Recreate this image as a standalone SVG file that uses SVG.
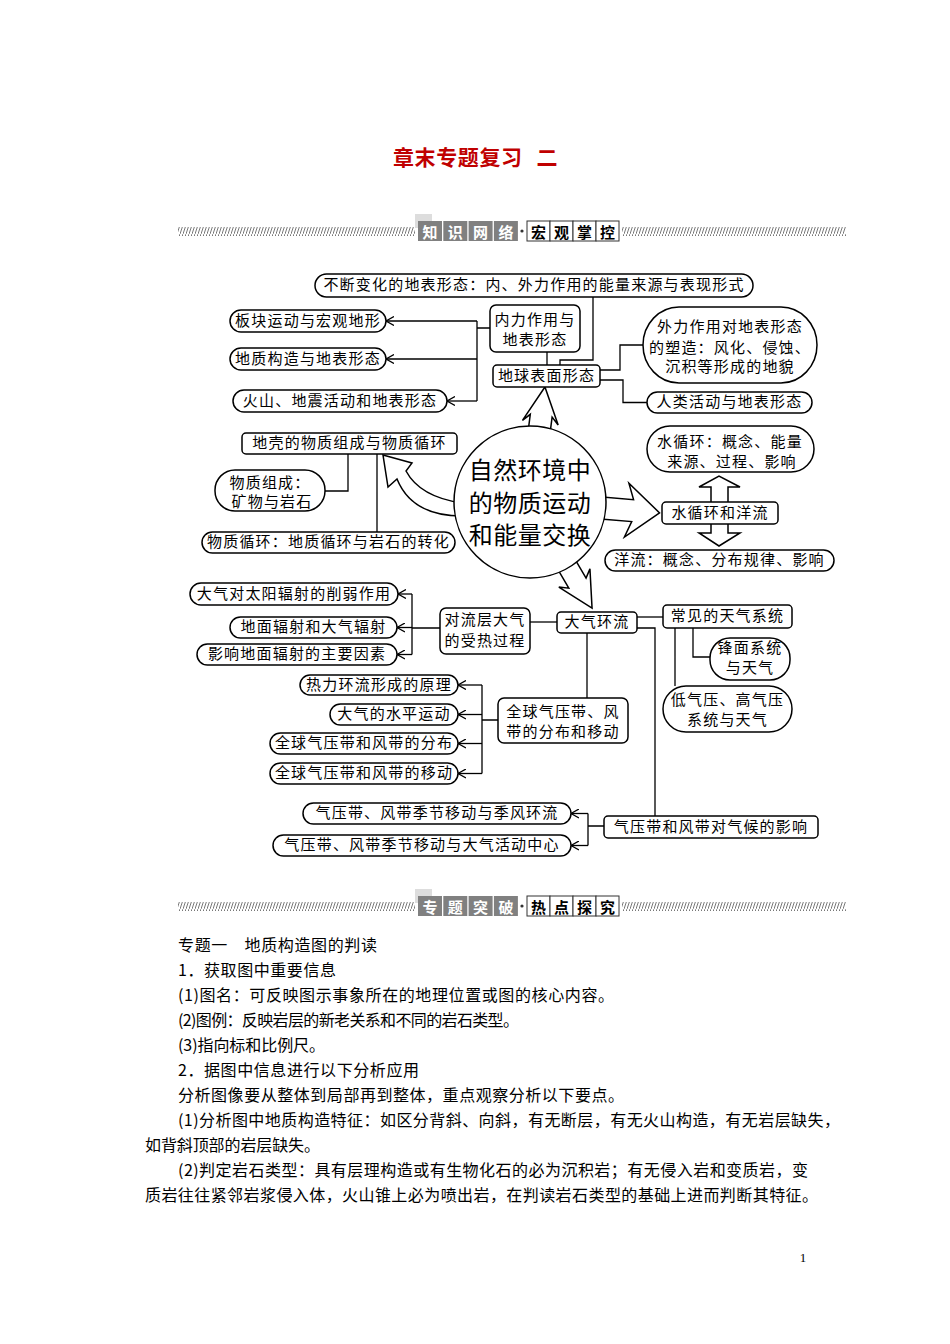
<svg xmlns="http://www.w3.org/2000/svg" width="950" height="1344" viewBox="0 0 950 1344">
<defs>
<style>
.b{fill:#fff;stroke:#000;stroke-width:1.5}
.t{font-family:"Noto Sans CJK SC","Noto Sans",sans-serif;font-size:15px;letter-spacing:1.2px;text-anchor:middle;dominant-baseline:central;fill:#000;transform:translateY(-2px)}
.big{font-family:"Noto Sans CJK SC",sans-serif;font-size:24px;letter-spacing:0.5px;text-anchor:middle;dominant-baseline:central;fill:#000;transform:translateY(-2px)}
.c{fill:none;stroke:#000;stroke-width:1.3}
.ar{fill:#fff;stroke:#000;stroke-width:1.5;stroke-linejoin:miter}
.p{font-family:"Noto Sans CJK SC","Noto Sans",sans-serif;font-size:16px;fill:#000}
.hg{fill:#808080}
.hw{fill:#fff;stroke:#333;stroke-width:1}
.ht{font-family:"Noto Sans CJK SC",sans-serif;font-size:15px;font-weight:bold;text-anchor:middle;dominant-baseline:central}
.ti{font-family:"Noto Sans CJK SC",sans-serif;font-size:21px;font-weight:bold;fill:#c00000;dominant-baseline:central}
</style>
<pattern id="hatch" width="3" height="9" patternUnits="userSpaceOnUse"><path d="M-1,10 L0,9 M0,9 L3,0 M3,0 L4,-1" stroke="#555" stroke-width="0.8"/></pattern>
<marker id="chev" viewBox="0 0 8 10" refX="8" refY="5" markerWidth="8" markerHeight="10" markerUnits="userSpaceOnUse" orient="auto"><path d="M0,0.5 L8,5 L0,9.5" fill="none" stroke="#000" stroke-width="1.3"/></marker>
</defs>
<rect width="950" height="1344" fill="#fff"/>

<g id="title">
<text class="ti" x="393" y="156" textLength="129">章末专题复习</text>
<text class="ti" x="547" y="156" text-anchor="middle">二</text>
</g>

<g id="header1">
<rect x="178" y="227" width="237" height="9" fill="url(#hatch)"/>
<rect x="622" y="227" width="224" height="9" fill="url(#hatch)"/>
<rect x="415" y="214" width="17" height="14" fill="#ddd"/>
<rect class="hg" x="418" y="221" width="24" height="20"/><rect class="hg" x="443.3" y="221" width="24" height="20"/><rect class="hg" x="468.6" y="221" width="24" height="20"/><rect class="hg" x="493.9" y="221" width="24" height="20"/>
<text class="ht" fill="#fff" x="430" y="231">知</text><text class="ht" fill="#fff" x="455.3" y="231">识</text><text class="ht" fill="#fff" x="480.6" y="231">网</text><text class="ht" fill="#fff" x="505.9" y="231">络</text>
<circle cx="522" cy="231" r="1.6" fill="#333"/>
<rect class="hw" x="527" y="221" width="23" height="20"/><rect class="hw" x="550" y="221" width="23" height="20"/><rect class="hw" x="573" y="221" width="23" height="20"/><rect class="hw" x="596" y="221" width="23" height="20"/>
<text class="ht" x="538.5" y="231">宏</text><text class="ht" x="561.5" y="231">观</text><text class="ht" x="584.5" y="231">掌</text><text class="ht" x="607.5" y="231">控</text>
</g>

<g id="connectors">
<path class="c" d="M593,297 V360 H560 V365"/>
<path class="c" d="M547,352 V365"/>
<path class="c" d="M490,328 H477 M477,321 V401"/>
<path class="c" d="M477,321 H386" marker-end="url(#chev)"/>
<path class="c" d="M477,359 H386" marker-end="url(#chev)"/>
<path class="c" d="M477,401 H447" marker-end="url(#chev)"/>
<path class="c" d="M600,370 H620 V345 H643"/>
<path class="c" d="M600,380 H623 V402.5 H647"/>
<path class="c" d="M348,454 V491 H325 M377,454 V532"/>
<path class="c" d="M440,628 H412 M412,594 V654.5"/>
<path class="c" d="M412,594 H398" marker-end="url(#chev)"/>
<path class="c" d="M412,627.5 H397" marker-end="url(#chev)"/>
<path class="c" d="M412,654.5 H397" marker-end="url(#chev)"/>
<path class="c" d="M530,622 H557"/>
<path class="c" d="M637,617 H663"/>
<path class="c" d="M637,628 H655 V816"/>
<path class="c" d="M675,628 V686 M693,628 V657 H710"/>
<path class="c" d="M587,633 V698"/>
<path class="c" d="M498,720 H482 M482,685 V773.5"/>
<path class="c" d="M482,685 H458" marker-end="url(#chev)"/>
<path class="c" d="M482,714.5 H458" marker-end="url(#chev)"/>
<path class="c" d="M482,743.5 H458" marker-end="url(#chev)"/>
<path class="c" d="M482,773.5 H458" marker-end="url(#chev)"/>
<path class="c" d="M604,826 H588 M588,813.5 V845.5"/>
<path class="c" d="M588,813.5 H571" marker-end="url(#chev)"/>
<path class="c" d="M588,845.5 H571" marker-end="url(#chev)"/>
<path class="ar" d="M711,502 V487 H699 L719,476 L740,487 H728 V502"/>
<path class="ar" d="M711,524 V533 H699 L719,546 L740,533 H728 V524"/>
<polygon class="ar" transform="translate(530,502) rotate(-82.6)" points="60,-11 87,-11 80,-18 116,0 80,18 87,11 60,11"/>
<polygon class="ar" transform="translate(530,502) rotate(4.8)" points="60,-11 103,-11 97,-27 130,0 97,27 103,11 60,11"/>
<polygon class="ar" transform="translate(530,502) rotate(59.7)" points="60,-10 94,-10 88,-18 123,0 88,18 94,10 60,10"/>
<path class="ar" d="M383,455 L412,463 L406,471 Q420,497 462,503 L462,516 Q412,516 397,479 L388,487 Z"/>
</g>

<g id="n-top"><rect class="b" x="315" y="274" width="438" height="23" rx="11.5"/><text class="t" x="534" y="285.5">不断变化的地表形态：内、外力作用的能量来源与表现形式</text></g>
<g id="n-bankuai"><rect class="b" x="230" y="310" width="156" height="22" rx="11"/><text class="t" x="308" y="321">板块运动与宏观地形</text></g>
<g id="n-dizhi"><rect class="b" x="230" y="348" width="156" height="22" rx="11"/><text class="t" x="308" y="359">地质构造与地表形态</text></g>
<g id="n-huoshan"><rect class="b" x="233" y="390" width="214" height="22" rx="11"/><text class="t" x="340" y="401">火山、地震活动和地表形态</text></g>
<g id="n-neili"><rect class="b" x="490" y="305" width="90" height="47" rx="6"/><text class="t" x="535" y="320">内力作用与</text><text class="t" x="535" y="340">地表形态</text></g>
<g id="n-diqiu"><rect class="b" x="493" y="365" width="107" height="22" rx="4"/><text class="t" x="546.5" y="376">地球表面形态</text></g>
<g id="n-waili"><rect class="b" x="643" y="307" width="174" height="76" rx="36" ry="38"/><text class="t" x="730" y="327">外力作用对地表形态</text><text class="t" x="730" y="348">的塑造：风化、侵蚀、</text><text class="t" x="730" y="367">沉积等形成的地貌</text></g>
<g id="n-renlei"><rect class="b" x="647" y="392" width="165" height="21" rx="10.5"/><text class="t" x="729.5" y="402.5">人类活动与地表形态</text></g>
<g id="n-diqiao"><rect class="b" x="242" y="433" width="215" height="21" rx="4"/><text class="t" x="349.5" y="443.5">地壳的物质组成与物质循环</text></g>
<g id="n-zucheng"><rect class="b" x="215" y="470" width="110" height="41" rx="20"/><text class="t" x="270" y="483">物质组成：</text><text class="t" x="272" y="502">矿物与岩石</text></g>
<g id="n-xunhuan"><rect class="b" x="202" y="532" width="253" height="21" rx="10.5"/><text class="t" x="328.5" y="542.5">物质循环：地质循环与岩石的转化</text></g>
<g id="n-center"><circle class="b" cx="530" cy="502" r="76"/><text class="big" x="530" y="470">自然环境中</text><text class="big" x="530" y="503">的物质运动</text><text class="big" x="530" y="535">和能量交换</text></g>
<g id="n-shuixunhuan"><rect class="b" x="647" y="426" width="167" height="46" rx="23"/><text class="t" x="730" y="442">水循环：概念、能量</text><text class="t" x="732" y="462">来源、过程、影响</text></g>
<g id="n-shuiyang"><rect class="b" x="662" y="502" width="116" height="22" rx="4"/><text class="t" x="720" y="513">水循环和洋流</text></g>
<g id="n-yangliu"><rect class="b" x="605" y="550" width="229" height="21" rx="10.5"/><text class="t" x="719.5" y="560.5">洋流：概念、分布规律、影响</text></g>
<g id="n-xueruo"><rect class="b" x="190" y="583" width="208" height="22" rx="11"/><text class="t" x="294" y="594">大气对太阳辐射的削弱作用</text></g>
<g id="n-fushe"><rect class="b" x="230" y="617" width="167" height="21" rx="10.5"/><text class="t" x="313.5" y="627.5">地面辐射和大气辐射</text></g>
<g id="n-yinsu"><rect class="b" x="197" y="644" width="200" height="21" rx="10.5"/><text class="t" x="297" y="654.5">影响地面辐射的主要因素</text></g>
<g id="n-duiliu"><rect class="b" x="440" y="608" width="90" height="46" rx="6"/><text class="t" x="485" y="620">对流层大气</text><text class="t" x="485" y="641">的受热过程</text></g>
<g id="n-huanliu"><rect class="b" x="557" y="612" width="80" height="21" rx="4"/><text class="t" x="597" y="622.5">大气环流</text></g>
<g id="n-tianqi"><rect class="b" x="663" y="605" width="129" height="23" rx="4"/><text class="t" x="727.5" y="616.5">常见的天气系统</text></g>
<g id="n-fengmian"><rect class="b" x="710" y="638" width="80" height="42" rx="20"/><text class="t" x="750" y="648">锋面系统</text><text class="t" x="750" y="668">与天气</text></g>
<g id="n-diqiya"><rect class="b" x="663" y="686" width="129" height="46" rx="23"/><text class="t" x="727.5" y="700">低气压、高气压</text><text class="t" x="727.5" y="720">系统与天气</text></g>
<g id="n-quanqiu"><rect class="b" x="498" y="698" width="130" height="45" rx="6"/><text class="t" x="563" y="712">全球气压带、风</text><text class="t" x="563" y="732">带的分布和移动</text></g>
<g id="n-reli"><rect class="b" x="300" y="675" width="158" height="20" rx="10"/><text class="t" x="379" y="685">热力环流形成的原理</text></g>
<g id="n-shuiping"><rect class="b" x="330" y="704" width="128" height="21" rx="10.5"/><text class="t" x="394" y="714.5">大气的水平运动</text></g>
<g id="n-fenbu"><rect class="b" x="270" y="733" width="188" height="21" rx="10.5"/><text class="t" x="364" y="743.5">全球气压带和风带的分布</text></g>
<g id="n-yidong"><rect class="b" x="270" y="763" width="188" height="21" rx="10.5"/><text class="t" x="364" y="773.5">全球气压带和风带的移动</text></g>
<g id="n-jifeng"><rect class="b" x="303" y="803" width="268" height="21" rx="10.5"/><text class="t" x="437" y="813.5">气压带、风带季节移动与季风环流</text></g>
<g id="n-huodong"><rect class="b" x="273" y="835" width="298" height="21" rx="10.5"/><text class="t" x="422" y="845.5">气压带、风带季节移动与大气活动中心</text></g>
<g id="n-qihou"><rect class="b" x="604" y="816" width="214" height="22" rx="4"/><text class="t" x="711" y="827">气压带和风带对气候的影响</text></g>

<g id="header2">
<rect x="178" y="902" width="237" height="9" fill="url(#hatch)"/>
<rect x="622" y="902" width="224" height="9" fill="url(#hatch)"/>
<rect x="415" y="889" width="17" height="14" fill="#ddd"/>
<rect class="hg" x="418" y="896" width="24" height="20"/><rect class="hg" x="443.3" y="896" width="24" height="20"/><rect class="hg" x="468.6" y="896" width="24" height="20"/><rect class="hg" x="493.9" y="896" width="24" height="20"/>
<text class="ht" fill="#fff" x="430" y="906">专</text><text class="ht" fill="#fff" x="455.3" y="906">题</text><text class="ht" fill="#fff" x="480.6" y="906">突</text><text class="ht" fill="#fff" x="505.9" y="906">破</text>
<circle cx="522" cy="906" r="1.6" fill="#333"/>
<rect class="hw" x="527" y="896" width="23" height="20"/><rect class="hw" x="550" y="896" width="23" height="20"/><rect class="hw" x="573" y="896" width="23" height="20"/><rect class="hw" x="596" y="896" width="23" height="20"/>
<text class="ht" x="538.5" y="906">热</text><text class="ht" x="561.5" y="906">点</text><text class="ht" x="584.5" y="906">探</text><text class="ht" x="607.5" y="906">究</text>
</g>

<g id="body">
<text class="p" x="178" y="951" textLength="199">专题一　地质构造图的判读</text>
<text class="p" x="178" y="976" textLength="158">1．获取图中重要信息</text>
<text class="p" x="178" y="1001" textLength="436">(1)图名：可反映图示事象所在的地理位置或图的核心内容。</text>
<text class="p" x="178" y="1026" textLength="341">(2)图例：反映岩层的新老关系和不同的岩石类型。</text>
<text class="p" x="178" y="1051" textLength="147">(3)指向标和比例尺。</text>
<text class="p" x="178" y="1076" textLength="241">2．据图中信息进行以下分析应用</text>
<text class="p" x="178" y="1101" textLength="446">分析图像要从整体到局部再到整体，重点观察分析以下要点。</text>
<text class="p" x="178" y="1126" textLength="662">(1)分析图中地质构造特征：如区分背斜、向斜，有无断层，有无火山构造，有无岩层缺失，</text>
<text class="p" x="145" y="1151" textLength="175">如背斜顶部的岩层缺失。</text>
<text class="p" x="178" y="1176" textLength="630">(2)判定岩石类型：具有层理构造或有生物化石的必为沉积岩；有无侵入岩和变质岩，变</text>
<text class="p" x="145" y="1201" textLength="673">质岩往往紧邻岩浆侵入体，火山锥上必为喷出岩，在判读岩石类型的基础上进而判断其特征。</text>
<text x="803" y="1262" font-family="Liberation Serif,serif" font-size="13" fill="#000" text-anchor="middle">1</text>
</g>
</svg>
